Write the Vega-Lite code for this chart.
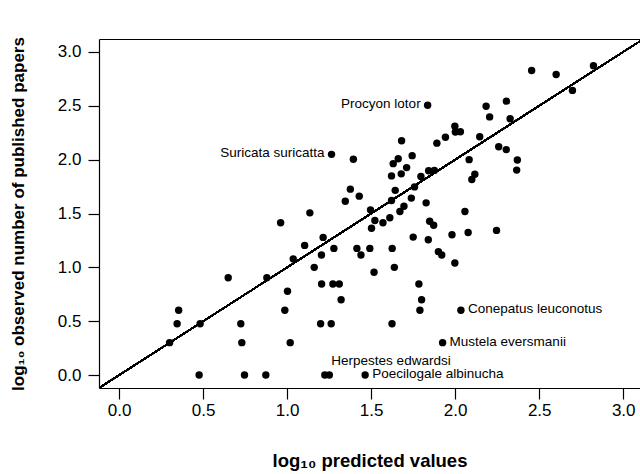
{
  "$schema": "https://vega.github.io/schema/vega-lite/v6.json",
  "autosize": {"type": "none"},
  "width": 541,
  "height": 349,
  "padding": {"left": 99, "top": 39, "right": 0, "bottom": 86},
  "background": "white",
  "config": {
    "view": {"stroke": null},
    "font": "Liberation Sans",
    "axis": {"grid": false, "domainColor": "black", "tickColor": "black", "labelColor": "black", "titleColor": "black", "labelFont": "Liberation Sans", "titleFont": "Liberation Sans"}
  },
  "data": {"values": [
    {"x": 1.036, "y": 1.079, "name": ""},
    {"x": 0.649, "y": 0.903, "name": ""},
    {"x": 0.879, "y": 0.903, "name": ""},
    {"x": 1.002, "y": 0.778, "name": ""},
    {"x": 0.354, "y": 0.602, "name": ""},
    {"x": 0.986, "y": 0.602, "name": ""},
    {"x": 0.345, "y": 0.477, "name": ""},
    {"x": 0.482, "y": 0.477, "name": ""},
    {"x": 0.724, "y": 0.477, "name": ""},
    {"x": 0.300, "y": 0.301, "name": ""},
    {"x": 0.730, "y": 0.301, "name": ""},
    {"x": 1.018, "y": 0.301, "name": ""},
    {"x": 0.476, "y": 0.0, "name": ""},
    {"x": 0.746, "y": 0.0, "name": ""},
    {"x": 0.873, "y": 0.0, "name": ""},
    {"x": 1.264, "y": 2.049, "name": "Suricata suricatta"},
    {"x": 1.394, "y": 2.004, "name": ""},
    {"x": 1.681, "y": 2.176, "name": ""},
    {"x": 1.744, "y": 2.037, "name": ""},
    {"x": 1.631, "y": 1.963, "name": ""},
    {"x": 1.661, "y": 2.009, "name": ""},
    {"x": 1.711, "y": 1.926, "name": ""},
    {"x": 1.621, "y": 1.849, "name": ""},
    {"x": 1.679, "y": 1.868, "name": ""},
    {"x": 1.796, "y": 1.843, "name": ""},
    {"x": 1.376, "y": 1.726, "name": ""},
    {"x": 1.346, "y": 1.613, "name": ""},
    {"x": 1.429, "y": 1.661, "name": ""},
    {"x": 1.643, "y": 1.715, "name": ""},
    {"x": 1.758, "y": 1.747, "name": ""},
    {"x": 1.739, "y": 1.643, "name": ""},
    {"x": 1.621, "y": 1.620, "name": ""},
    {"x": 1.135, "y": 1.506, "name": ""},
    {"x": 1.496, "y": 1.534, "name": ""},
    {"x": 1.695, "y": 1.567, "name": ""},
    {"x": 1.671, "y": 1.519, "name": ""},
    {"x": 1.522, "y": 1.435, "name": ""},
    {"x": 1.570, "y": 1.414, "name": ""},
    {"x": 1.611, "y": 1.460, "name": ""},
    {"x": 1.502, "y": 1.363, "name": ""},
    {"x": 1.214, "y": 1.278, "name": ""},
    {"x": 1.104, "y": 1.204, "name": ""},
    {"x": 1.278, "y": 1.176, "name": ""},
    {"x": 1.415, "y": 1.176, "name": ""},
    {"x": 1.492, "y": 1.176, "name": ""},
    {"x": 1.625, "y": 1.176, "name": ""},
    {"x": 1.750, "y": 1.281, "name": ""},
    {"x": 1.204, "y": 1.114, "name": ""},
    {"x": 1.439, "y": 1.114, "name": ""},
    {"x": 1.161, "y": 1.0, "name": ""},
    {"x": 1.638, "y": 1.0, "name": ""},
    {"x": 1.517, "y": 0.954, "name": ""},
    {"x": 1.205, "y": 0.845, "name": ""},
    {"x": 1.272, "y": 0.845, "name": ""},
    {"x": 1.310, "y": 0.845, "name": ""},
    {"x": 1.784, "y": 0.845, "name": ""},
    {"x": 1.321, "y": 0.699, "name": ""},
    {"x": 1.199, "y": 0.477, "name": ""},
    {"x": 1.262, "y": 0.477, "name": ""},
    {"x": 1.624, "y": 0.477, "name": ""},
    {"x": 1.224, "y": 0.0, "name": ""},
    {"x": 1.251, "y": 0.0, "name": "Herpestes edwardsi"},
    {"x": 1.464, "y": 0.0, "name": "Poecilogale albinucha"},
    {"x": 1.836, "y": 2.505, "name": "Procyon lotor"},
    {"x": 2.184, "y": 2.495, "name": ""},
    {"x": 2.305, "y": 2.543, "name": ""},
    {"x": 2.205, "y": 2.397, "name": ""},
    {"x": 2.327, "y": 2.380, "name": ""},
    {"x": 1.998, "y": 2.310, "name": ""},
    {"x": 2.001, "y": 2.256, "name": ""},
    {"x": 2.031, "y": 2.259, "name": ""},
    {"x": 1.942, "y": 2.208, "name": ""},
    {"x": 1.891, "y": 2.153, "name": ""},
    {"x": 2.146, "y": 2.212, "name": ""},
    {"x": 2.259, "y": 2.119, "name": ""},
    {"x": 2.304, "y": 2.093, "name": ""},
    {"x": 2.370, "y": 1.997, "name": ""},
    {"x": 2.366, "y": 1.903, "name": ""},
    {"x": 2.083, "y": 2.0, "name": ""},
    {"x": 2.117, "y": 1.865, "name": ""},
    {"x": 2.099, "y": 1.815, "name": ""},
    {"x": 1.842, "y": 1.897, "name": ""},
    {"x": 1.876, "y": 1.900, "name": ""},
    {"x": 1.827, "y": 1.599, "name": ""},
    {"x": 2.058, "y": 1.519, "name": ""},
    {"x": 1.848, "y": 1.428, "name": ""},
    {"x": 1.872, "y": 1.391, "name": ""},
    {"x": 1.840, "y": 1.256, "name": ""},
    {"x": 1.981, "y": 1.303, "name": ""},
    {"x": 2.077, "y": 1.324, "name": ""},
    {"x": 2.246, "y": 1.343, "name": ""},
    {"x": 1.900, "y": 1.146, "name": ""},
    {"x": 1.920, "y": 1.114, "name": ""},
    {"x": 1.998, "y": 1.041, "name": ""},
    {"x": 1.800, "y": 0.699, "name": ""},
    {"x": 1.790, "y": 0.602, "name": ""},
    {"x": 2.034, "y": 0.602, "name": "Conepatus leuconotus"},
    {"x": 1.925, "y": 0.301, "name": "Mustela eversmanii"},
    {"x": 2.455, "y": 2.828, "name": ""},
    {"x": 2.601, "y": 2.791, "name": ""},
    {"x": 2.823, "y": 2.872, "name": ""},
    {"x": 2.698, "y": 2.643, "name": ""},
    {"x": 0.961, "y": 1.414, "name": ""}
  ]},
  "resolve": {"axis": {"x": "independent", "y": "independent"}},
  "layer": [
    {
      "mark": {"type": "rule", "color": "black", "strokeWidth": 1.2, "clip": true},
      "encoding": {
        "x": {"datum": -0.12, "type": "quantitative", "scale": {"domain": [-0.12, 3.1], "nice": false, "zero": false}, "axis": {"orient": "top", "labels": false, "ticks": false, "domain": true, "title": null, "domainWidth": 1.2}},
        "y": {"datum": -0.12, "type": "quantitative", "scale": {"domain": [-0.12, 3.12], "nice": false, "zero": false}, "axis": null},
        "x2": {"datum": 3.12},
        "y2": {"datum": 3.12}
      }
    },
    {
      "mark": {"type": "circle", "color": "black", "opacity": 1, "size": 55},
      "encoding": {
        "x": {"field": "x", "type": "quantitative", "axis": {"orient": "bottom", "values": [0, 0.5, 1, 1.5, 2, 2.5, 3], "format": ".1f", "tickSize": 11, "labelPadding": 3, "labelFontSize": 17, "title": "log₁₀ predicted values", "titleFontSize": 18.5, "titleFontWeight": "bold", "titlePadding": 33, "domainWidth": 1.2, "tickWidth": 1.2}},
        "y": {"field": "y", "type": "quantitative", "axis": {"orient": "left", "values": [0, 0.5, 1, 1.5, 2, 2.5, 3], "format": ".1f", "tickSize": 11, "labelPadding": 7, "labelFontSize": 17, "title": "log₁₀ observed number of published papers", "titleFontSize": 17, "titleFontWeight": "bold", "titlePadding": 30, "domainWidth": 1.2, "tickWidth": 1.2}}
      }
    },
    {
      "transform": [{"filter": "datum.name == 'Procyon lotor' || datum.name == 'Suricata suricatta'"}],
      "mark": {"type": "text", "align": "right", "baseline": "middle", "dx": -7, "dy": -1, "fontSize": 13.5, "color": "black"},
      "encoding": {
        "x": {"field": "x", "type": "quantitative", "axis": null},
        "y": {"field": "y", "type": "quantitative", "axis": null},
        "text": {"field": "name"}
      }
    },
    {
      "transform": [{"filter": "datum.name == 'Conepatus leuconotus' || datum.name == 'Mustela eversmanii' || datum.name == 'Poecilogale albinucha'"}],
      "mark": {"type": "text", "align": "left", "baseline": "middle", "dx": 7, "dy": -1, "fontSize": 13.5, "color": "black"},
      "encoding": {
        "x": {"field": "x", "type": "quantitative", "axis": null},
        "y": {"field": "y", "type": "quantitative", "axis": null},
        "text": {"field": "name"}
      }
    },
    {
      "transform": [{"filter": "datum.name == 'Herpestes edwardsi'"}],
      "mark": {"type": "text", "align": "left", "baseline": "middle", "dx": 2, "dy": -14, "fontSize": 13.5, "color": "black"},
      "encoding": {
        "x": {"field": "x", "type": "quantitative", "axis": null},
        "y": {"field": "y", "type": "quantitative", "axis": null},
        "text": {"field": "name"}
      }
    }
  ]
}
